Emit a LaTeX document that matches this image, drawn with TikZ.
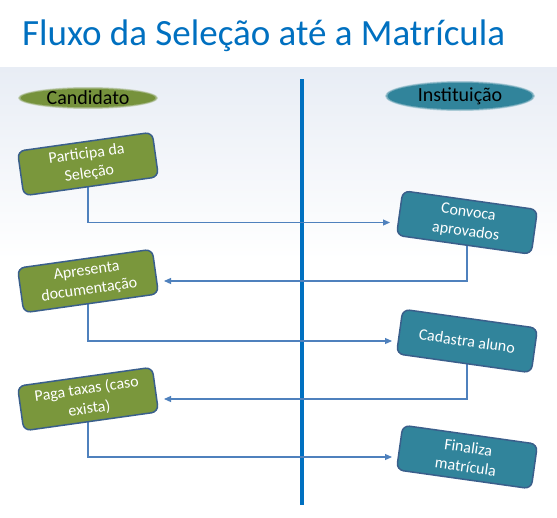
\documentclass[tikz,border=0pt]{standalone}
\usepackage{fontspec}
\setmainfont{Carlito}
\usetikzlibrary{arrows.meta,shapes.geometric}
\pgfdeclarelayer{bg}
\pgfdeclarelayer{lines}
\pgfsetlayers{bg,lines,main}
\definecolor{titleblue}{RGB}{0,112,192}
\definecolor{olivebox}{RGB}{122,151,60}
\definecolor{oliveell}{RGB}{118,146,60}
\definecolor{tealbox}{RGB}{49,132,155}
\definecolor{bord}{RGB}{58,95,139}
\definecolor{connc}{RGB}{79,129,189}
\definecolor{bgtint}{RGB}{232,237,245}
\begin{document}
\begin{tikzpicture}[x=1pt,y=-1pt,
  boxbase/.style={draw=bord, line width=1.5pt, rounded corners=7pt,
    minimum width=136pt, minimum height=45pt, text=white, align=center,
    font=\fontsize{16}{19.5}\selectfont, inner sep=2pt},
  gbox/.style={boxbase, fill=olivebox, rotate=8},
  tbox/.style={boxbase, fill=tealbox, rotate=-8},
  conn/.style={draw=connc, line width=1.1pt, -{Triangle[length=7pt,width=6pt]}},
  lbl/.style={inner sep=0pt, text=black, font=\fontsize{20}{24}\selectfont}
]
\useasboundingbox (0,0) rectangle (557,517);
\begin{pgfonlayer}{bg}
  \fill[white] (0,0) rectangle (557,517);
  \shade[top color=bgtint, bottom color=white] (0,67) rectangle (557,260);
  \draw[titleblue, line width=4.5pt] (302,79) -- (302,505);
  % ellipses with soft edges
  \fill[oliveell, opacity=0.3] (88,98) ellipse [x radius=70, y radius=11];
  \fill[oliveell, opacity=0.5] (88,98) ellipse [x radius=69, y radius=10.2];
  \fill[oliveell] (88,98) ellipse [x radius=67.5, y radius=9.2];
  \fill[tealbox, opacity=0.3] (460,96) ellipse [x radius=75, y radius=15];
  \fill[tealbox, opacity=0.5] (460,96) ellipse [x radius=74, y radius=14.2];
  \fill[tealbox] (460,96) ellipse [x radius=72.5, y radius=13.2];
\end{pgfonlayer}

\node[anchor=base west, inner sep=0pt, text=titleblue, font=\fontsize{37}{42}\selectfont] (title) at (22,45) {Fluxo da Seleção até a Matrícula};

\node[lbl] (cand) at (88,98) {Candidato};
\node[lbl] (inst) at (460,96) {Instituição};

\node[gbox] (p1) at (88,164) {Participa da\\Seleção};
\node[gbox] (a2) at (88,281) {Apresenta\\documentação};
\node[gbox] (p3) at (88,399) {Paga taxas (caso\\exista)};
\node[tbox] (c1) at (467,222.5) {Convoca\\aprovados};
\node[tbox] (c2) at (467,341) {Cadastra aluno};
\node[tbox] (c3) at (467,457) {Finaliza\\matrícula};

\begin{pgfonlayer}{lines}
  \draw[conn] (p1.center) |- ([xshift=-77pt]c1.center);
  \draw[conn] (c1.center) |- ([xshift=76pt]a2.center);
  \draw[conn] (a2.center) |- ([xshift=-75pt]c2.center);
  \draw[conn] (c2.center) |- ([xshift=76pt]p3.center);
  \draw[conn] (p3.center) |- ([xshift=-75pt]c3.center);
\end{pgfonlayer}
\end{tikzpicture}
\end{document}
